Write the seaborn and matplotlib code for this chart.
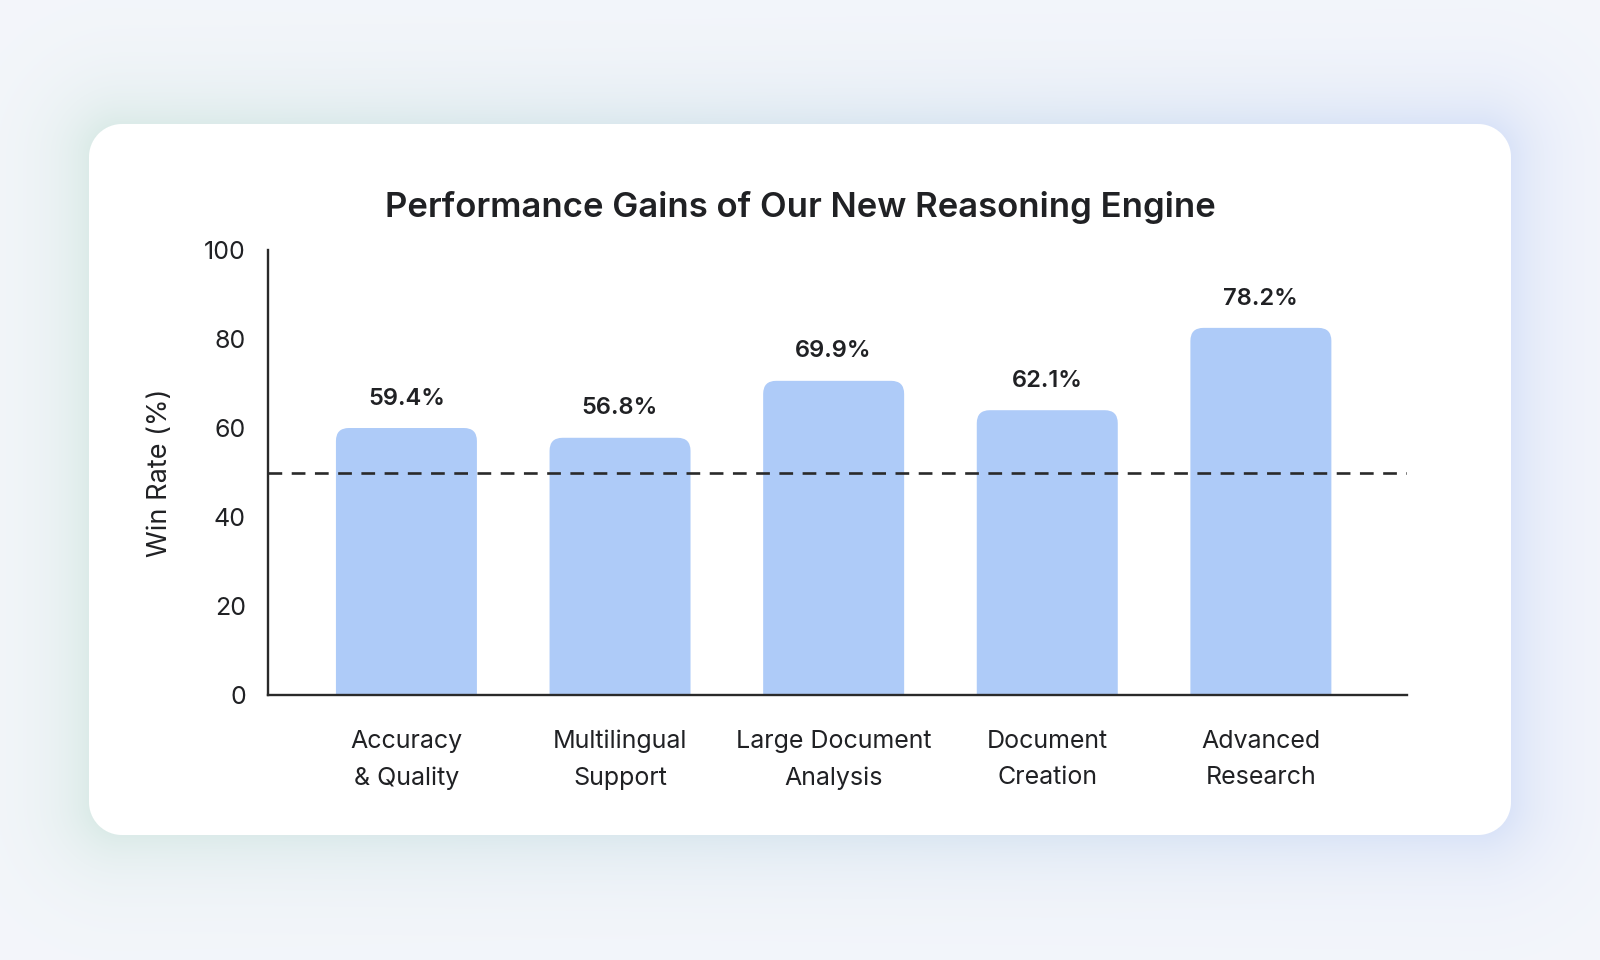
import numpy as np
import pandas as pd
import matplotlib
matplotlib.use("Agg")
import matplotlib.pyplot as plt
import seaborn as sns
from matplotlib.patches import FancyBboxPatch

# ---- data ----
categories = ["Accuracy\n& Quality", "Multilingual\nSupport", "Large Document\nAnalysis",
              "Document\nCreation", "Advanced\nResearch"]
bar_heights = [60.0, 57.8, 70.6, 64.0, 82.5]          # bar tops as drawn in the picture
value_labels = ["59.4%", "56.8%", "69.9%", "62.1%", "78.2%"]
y_ticks = [0, 20, 40, 60, 80, 100]
baseline = 50
title = "Performance Gains of Our New Reasoning Engine"
ylabel = "Win Rate (%)"

# ---- style ----
sns.set_theme(style="white")
FONT = ["Inter", "DejaVu Sans"]
plt.rcParams["font.family"] = FONT
TEXT = "#202124"
AXC = "#2a2a2a"
BAR = "#aecbf8"

W, H = 1600, 960
fig = plt.figure(figsize=(16, 9.6), dpi=100)

# ---- background with soft shadow and white card ----
yy, xx = np.mgrid[0:H, 0:W] + 0.5
L, T, R, B, rad = 89, 124, 1511, 835, 33
cx, cy = (L + R) / 2, (T + B) / 2
hx, hy = (R - L) / 2 - rad, (B - T) / 2 - rad
qx, qy = np.abs(xx - cx) - hx, np.abs(yy - cy) - hy
d = np.hypot(np.maximum(qx, 0), np.maximum(qy, 0)) + np.minimum(np.maximum(qx, qy), 0) - rad

base = np.array([244, 246, 251]) / 255.0
green = np.array([216, 234, 228]) / 255.0
blue = np.array([214, 224, 249]) / 255.0
t = np.clip(xx / W, 0, 1)[..., None]
shadow_col = green * (1 - t) + blue * t
a = (0.85 * np.exp(-np.maximum(d, 0) / 40.0))[..., None]
img = base * (1 - a) + shadow_col * a
card = np.clip(0.5 - d, 0, 1)[..., None]
img = img * (1 - card) + np.ones(3) * card

bg = fig.add_axes([0, 0, 1, 1], zorder=-10)
bg.imshow(img, extent=(0, W, H, 0), aspect="auto", interpolation="bilinear")
bg.set_xlim(0, W)
bg.set_ylim(H, 0)
bg.axis("off")

# ---- chart axes ----
ax_l, ax_r, ax_t, ax_b = 268, 1407, 250, 695
ax = fig.add_axes([ax_l / W, 1 - ax_b / H, (ax_r - ax_l) / W, (ax_b - ax_t) / H])
ax.patch.set_alpha(0)

df = pd.DataFrame({"category": categories, "win": bar_heights})
sns.barplot(data=df, x="category", y="win", color=BAR, saturation=1, width=0.66, ax=ax)

xmin, xmax = -0.648, 4.684
ax.set_xlim(xmin, xmax)
ax.set_ylim(0, 100)

# rounded tops
px_per_x = (ax_r - ax_l) / (xmax - xmin)
px_per_y = (ax_b - ax_t) / 100.0
r_px = 13
for p in list(ax.patches):
    x0, w, h = p.get_x(), p.get_width(), p.get_height()
    p.set_visible(False)
    fb = FancyBboxPatch((x0, -10), w, h + 10,
                        boxstyle=f"round,pad=0,rounding_size={r_px / px_per_x}",
                        mutation_aspect=px_per_x / px_per_y,
                        facecolor=BAR, edgecolor="none", zorder=2)
    ax.add_patch(fb)

ax.axhline(baseline, color=AXC, lw=1.9, dashes=(5.2, 3.6), zorder=3)

for i, (h, lab) in enumerate(zip(bar_heights, value_labels)):
    ax.text(i, h + 6.6, lab, ha="center", va="center", fontsize=17,
            fontweight="semibold", color=TEXT, zorder=4)

for s in ["top", "right"]:
    ax.spines[s].set_visible(False)
for s in ["left", "bottom"]:
    ax.spines[s].set_color(AXC)
    ax.spines[s].set_linewidth(1.7)
    ax.spines[s].set_zorder(5)

ax.set_yticks(y_ticks)
ax.set_yticklabels([str(v) for v in y_ticks])
ax.tick_params(axis="y", length=0, pad=16, labelsize=18, labelcolor=TEXT)
ax.tick_params(axis="x", length=0, pad=25, labelsize=18, labelcolor=TEXT)
for lbl in ax.get_xticklabels():
    lbl.set_linespacing(1.75)
ax.set_xlabel("")
ax.set_ylabel(ylabel, fontsize=19.5, color=TEXT)
ax.yaxis.set_label_coords(-(ax_l - 173) / (ax_r - ax_l), 0.5)

fig.text(0.5, 1 - 207 / H, title, ha="center", va="center", fontsize=25,
         fontweight="semibold", color=TEXT)

fig.savefig("out.png", dpi=100)
